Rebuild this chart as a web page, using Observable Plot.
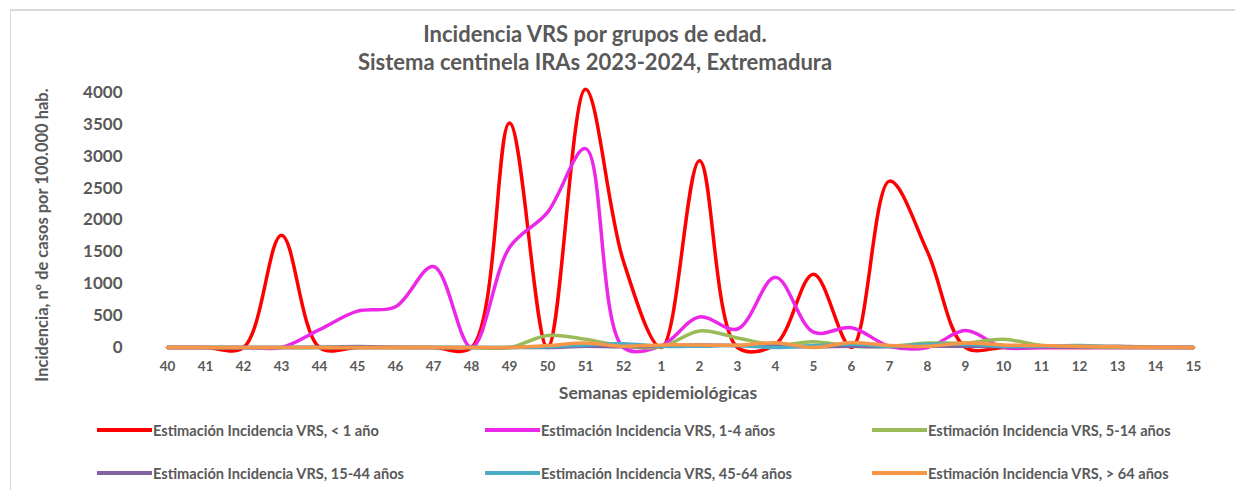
<!DOCTYPE html>
<html>
<head>
<meta charset="utf-8">
<script src="https://cdn.jsdelivr.net/npm/d3@7"></script>
<script src="https://cdn.jsdelivr.net/npm/@observablehq/plot@0.6"></script>
<style>
  body { margin: 0; background: #fff; font-family: Lato, "Open Sans", sans-serif; }
  #wrap { position: relative; width: 1235px; height: 490px; overflow: hidden; }
  #frame { position: absolute; left: 10px; top: 9px; width: 1240px; height: 500px; border-left: 1px solid #d9d9d9; border-top: 2px solid #d9d9d9; }
  #title { position: absolute; left: 0; width: 1190px; top: 20px; text-align: center; font-weight: 700; font-size: 22px; color: #595959; line-height: 28px; }
  #chart { position: absolute; left: 0; top: 80px; }
  .leg { position: absolute; display: flex; align-items: center; font-weight: 700; font-size: 14.6px; color: #595959; white-space: nowrap; }
  .sw { width: 55px; height: 4px; margin-right: 1px; }
</style>
</head>
<body>
<div id="wrap">
  <div id="frame"></div>
  <div id="title">Incidencia VRS por grupos de edad.<br>Sistema centinela IRAs 2023-2024, Extremadura</div>
  <div id="chart"></div>
  <div id="legend"></div>
</div>
<script>
const weeks = ["40","41","42","43","44","45","46","47","48","49","50","51","52","1","2","3","4","5","6","7","8","9","10","11","12","13","14","15"];
const yTicks = [0, 500, 1000, 1500, 2000, 2500, 3000, 3500, 4000];
const xTitle = "Semanas epidemiológicas";
const yTitle = "Incidencia, nº de casos por 100.000 hab.";

const seriesNames = [
  "Estimación Incidencia VRS, < 1 año",
  "Estimación Incidencia VRS, 1-4 años",
  "Estimación Incidencia VRS, 5-14 años",
  "Estimación Incidencia VRS, 15-44 años",
  "Estimación Incidencia VRS, 45-64 años",
  "Estimación Incidencia VRS, > 64 años"
];
const seriesColors = ["#ff0000", "#ec28e8", "#9bbb59", "#8064a2", "#4bacc6", "#f79646"];

const menor1 = [0,0,0,1760,0,0,0,0,0,3520,0,4050,1350,0,2930,0,50,1150,0,2610,1500,0,0,0,0,0,0,0];
const de1a4 = [0,0,0,0,280,570,640,1270,0,1570,2120,3120,0,30,480,290,1100,240,310,20,0,265,0,0,0,0,0,0];
const de5a14 = [0,0,0,0,0,0,0,0,0,0,190,130,20,10,260,150,40,90,20,20,70,70,130,30,10,0,0,0];
const de15a44 = [0,0,0,0,5,15,5,0,0,0,0,20,10,20,40,30,20,10,20,10,20,20,10,10,10,20,5,0];
const de45a64 = [0,0,0,0,0,0,0,0,0,0,10,40,60,20,20,30,0,30,50,20,50,50,20,20,30,10,0,0];
const mayor64 = [0,0,0,0,0,0,0,0,0,0,30,70,20,40,40,35,75,0,80,30,20,70,40,30,20,10,5,0];

const allSeries = [menor1, de1a4, de5a14, de15a44, de45a64, mayor64];
const rows = [];
allSeries.forEach((vals, si) => {
  vals.forEach((v, i) => rows.push({week: weeks[i], value: v, serie: seriesNames[si]}));
});

const chart = Plot.plot({
  width: 1235,
  height: 330,
  marginLeft: 143,
  marginRight: 19,
  marginTop: 12,
  marginBottom: 63,
  style: { fontFamily: "Lato, 'Open Sans', sans-serif", color: "#595959", background: "transparent", overflow: "visible" },
  x: { type: "point", domain: weeks, padding: 0.5 },
  y: { domain: [0, 4000] },
  color: { domain: seriesNames, range: seriesColors },
  marks: [
    Plot.gridY(yTicks, { stroke: "#d9d9d9", strokeOpacity: 1, strokeWidth: 1.4, x1: 145, x2: 1218 }),
    Plot.axisY(yTicks, { tickSize: 0, tickPadding: 21, fontSize: 17, fontWeight: 700, fill: "#595959",
      tickFormat: d => String(d), label: null }),
    Plot.axisX({ tickSize: 0, tickPadding: 14, fontSize: 13.5, fontWeight: 700, fill: "#595959", label: null }),
    Plot.text([yTitle], { text: d => d, frameAnchor: "left", textAnchor: "middle", dx: -101, dy: 15, rotate: -90,
      fontSize: 16.5, fontWeight: 700, fill: "#595959" }),
    Plot.text([xTitle], { text: d => d, frameAnchor: "bottom", dx: -22, dy: 51,
      fontSize: 17.5, fontWeight: 700, fill: "#595959" }),
    Plot.line(rows, { x: "week", y: "value", z: "serie", stroke: "serie", strokeWidth: 3.5,
      curve: "catmull-rom" })
  ]
});
document.getElementById("chart").appendChild(chart);

const legend = document.getElementById("legend");
const legX = [97, 485, 872];
const legY = [430, 473];
seriesNames.forEach((name, i) => {
  const d = document.createElement("div");
  d.className = "leg";
  d.style.left = legX[i % 3] + "px";
  d.style.top = (legY[Math.floor(i / 3)] - 9) + "px";
  d.style.height = "18px";
  const sw = document.createElement("span");
  sw.className = "sw";
  sw.style.background = seriesColors[i];
  d.appendChild(sw);
  const tx = document.createElement("span");
  tx.textContent = name;
  d.appendChild(tx);
  legend.appendChild(d);
});
</script>
</body>
</html>
